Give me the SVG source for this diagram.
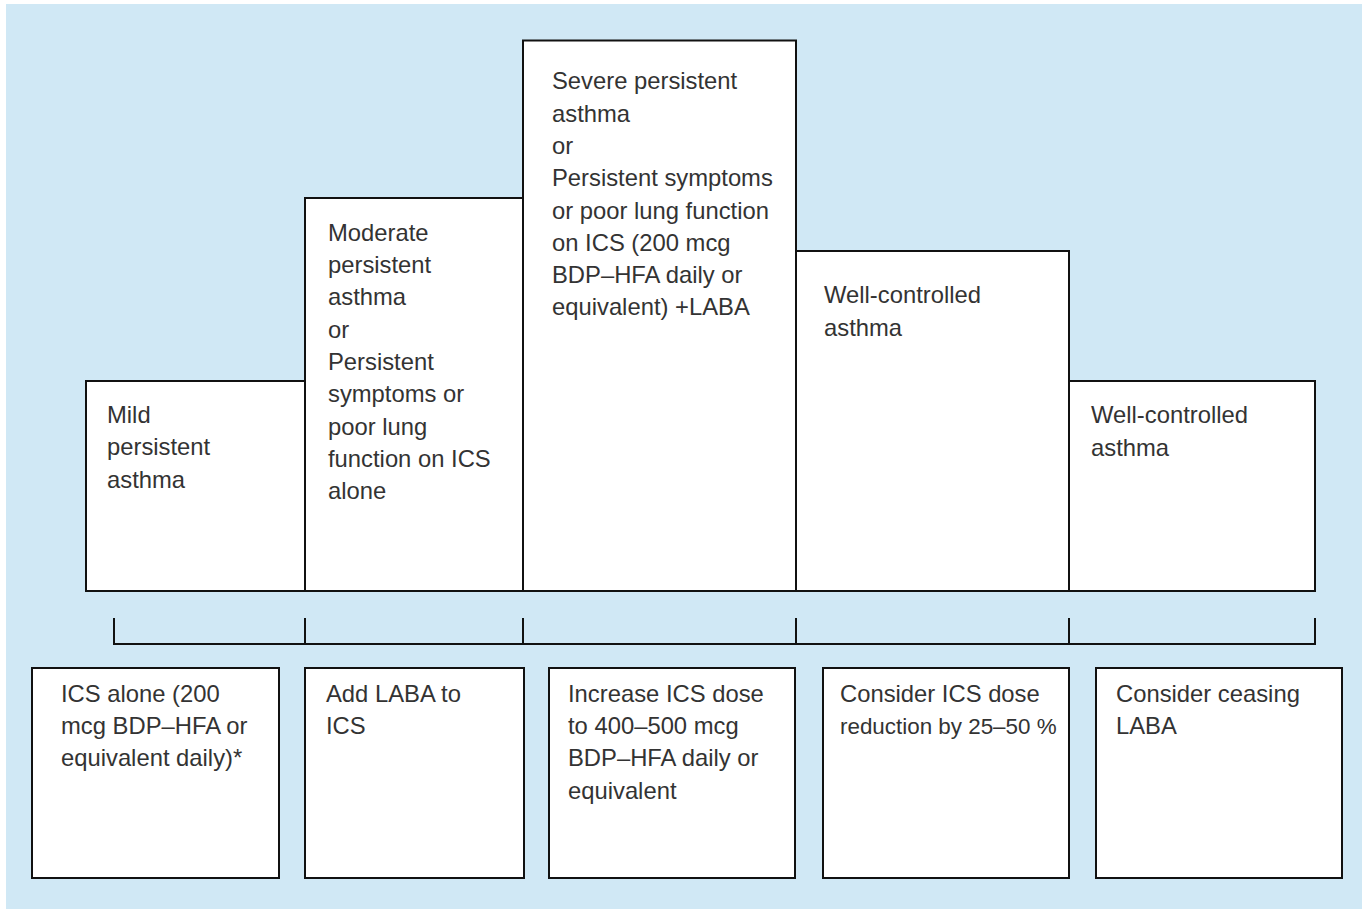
<svg xmlns="http://www.w3.org/2000/svg" width="1366" height="909" viewBox="0 0 1366 909">
<style>
.box{fill:#ffffff;stroke:#111111;stroke-width:2}
.ln{stroke:#111111;stroke-width:2;fill:none}
text{font-family:"Liberation Sans",Arial,Helvetica,sans-serif;font-size:23.8px;fill:#333333}
</style>
<rect x="6" y="4" width="1356" height="905" fill="#D0E8F5"/>
<g id="top-mild">
<rect class="box" x="86" y="381" width="219" height="210"/>
<text x="107" y="423"><tspan x="107" dy="0">Mild</tspan><tspan x="107" dy="32.3">persistent</tspan><tspan x="107" dy="32.3">asthma</tspan></text>
</g>
<g id="top-moderate">
<rect class="box" x="305" y="198" width="218" height="393"/>
<text x="328" y="240.7"><tspan x="328" dy="0">Moderate</tspan><tspan x="328" dy="32.3">persistent</tspan><tspan x="328" dy="32.3">asthma</tspan><tspan x="328" dy="32.3">or</tspan><tspan x="328" dy="32.3">Persistent</tspan><tspan x="328" dy="32.3">symptoms or</tspan><tspan x="328" dy="32.3">poor lung</tspan><tspan x="328" dy="32.3">function on ICS</tspan><tspan x="328" dy="32.3">alone</tspan></text>
</g>
<g id="top-severe">
<rect class="box" x="523" y="40.5" width="273" height="550.5"/>
<text x="552" y="89.3"><tspan x="552" dy="0">Severe persistent</tspan><tspan x="552" dy="32.3">asthma</tspan><tspan x="552" dy="32.3">or</tspan><tspan x="552" dy="32.3">Persistent symptoms</tspan><tspan x="552" dy="32.3">or poor lung function</tspan><tspan x="552" dy="32.3">on ICS (200 mcg</tspan><tspan x="552" dy="32.3">BDP–HFA daily or</tspan><tspan x="552" dy="32.3">equivalent) +LABA</tspan></text>
</g>
<g id="top-wellcontrolled-1">
<rect class="box" x="796" y="251" width="273" height="340"/>
<text x="824" y="303.3"><tspan x="824" dy="0">Well-controlled</tspan><tspan x="824" dy="32.3">asthma</tspan></text>
</g>
<g id="top-wellcontrolled-2">
<rect class="box" x="1069" y="381" width="246" height="210"/>
<text x="1091" y="423.3"><tspan x="1091" dy="0">Well-controlled</tspan><tspan x="1091" dy="32.3">asthma</tspan></text>
</g>
<g id="connectors">
<path class="ln" d="M114 618V644H1315V618M305 618V644M523 618V644M796 618V644M1069 618V644"/>
</g>
<g id="bottom-ics-alone">
<rect class="box" x="32" y="668" width="247" height="210"/>
<text x="61" y="701.7"><tspan x="61" dy="0">ICS alone (200</tspan><tspan x="61" dy="32.3">mcg BDP–HFA or</tspan><tspan x="61" dy="32.3">equivalent daily)*</tspan></text>
</g>
<g id="bottom-add-laba">
<rect class="box" x="305" y="668" width="219" height="210"/>
<text x="326" y="701.7"><tspan x="326" dy="0">Add LABA to</tspan><tspan x="326" dy="32.3">ICS</tspan></text>
</g>
<g id="bottom-increase-ics">
<rect class="box" x="549" y="668" width="246" height="210"/>
<text x="568" y="701.7"><tspan x="568" dy="0">Increase ICS dose</tspan><tspan x="568" dy="32.3">to 400–500 mcg</tspan><tspan x="568" dy="32.3">BDP–HFA daily or</tspan><tspan x="568" dy="32.3">equivalent</tspan></text>
</g>
<g id="bottom-reduce-ics">
<rect class="box" x="823" y="668" width="246" height="210"/>
<text x="840" y="701.7"><tspan x="840" dy="0">Consider ICS dose</tspan><tspan x="840" dy="32.3" style="font-size:22.4px">reduction by 25–50 %</tspan></text>
</g>
<g id="bottom-cease-laba">
<rect class="box" x="1096" y="668" width="246" height="210"/>
<text x="1116" y="701.7"><tspan x="1116" dy="0">Consider ceasing</tspan><tspan x="1116" dy="32.3">LABA</tspan></text>
</g>
</svg>
